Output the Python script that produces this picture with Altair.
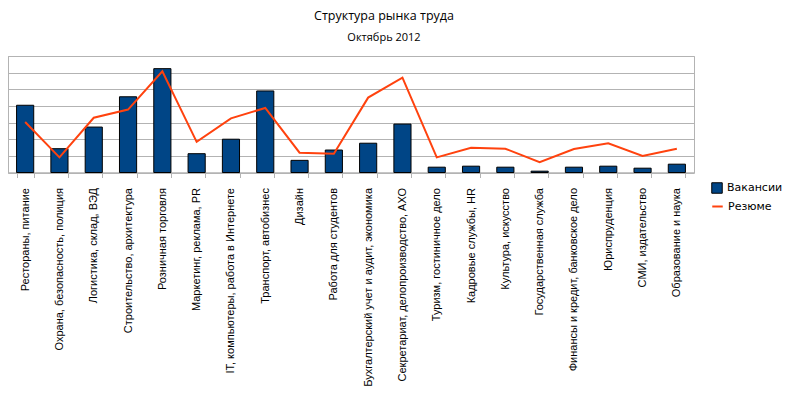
import altair as alt
import pandas as pd

categories = [
    "Рестораны, питание",
    "Охрана, безопасность, полиция",
    "Логистика, склад, ВЭД",
    "Строительство, архитектура",
    "Розничная торговля",
    "Маркетинг, реклама, PR",
    "IT, компьютеры, работа в Интернете",
    "Транспорт, автобизнес",
    "Дизайн",
    "Работа для студентов",
    "Бухгалтерский учет и аудит, экономика",
    "Секретариат, делопроизводство, АХО",
    "Туризм, гостиничное дело",
    "Кадровые службы, HR",
    "Культура, искусство",
    "Государственная служба",
    "Финансы и кредит, банковское дело",
    "Юриспруденция",
    "СМИ, издательство",
    "Образование и наука",
]
vacancies = [4.04, 1.43, 2.73, 4.55, 6.24, 1.13, 2.0, 4.9, 0.73, 1.35,
             1.76, 2.91, 0.32, 0.38, 0.32, 0.08, 0.32, 0.38, 0.26, 0.5]
resumes = [3.03, 0.91, 3.29, 3.78, 6.08, 1.84, 3.25, 3.88, 1.19, 1.13,
           4.5, 5.7, 0.91, 1.49, 1.43, 0.62, 1.41, 1.76, 0.99, 1.43]
y_ticks = [0, 1, 2, 3, 4, 5, 6, 7]

df = pd.DataFrame({
    "cat": categories,
    "vac": vacancies,
    "res": resumes,
    "s1": ["Вакансии"] * len(categories),
    "s2": ["Резюме"] * len(categories),
})

GRID = "#b3b3b3"
BLUE = "#004586"
ORANGE = "#ff420e"

x = alt.X("cat:N", sort=categories, title=None,
          scale=alt.Scale(paddingInner=0.5, paddingOuter=0.25),
          axis=alt.Axis(labelAngle=-90, labelAlign="right", labelBaseline="middle",
                        labelFont="Liberation Sans", labelFontSize=11, labelColor="#000000",
                        tickBand="extent", tickColor=GRID, tickSize=5,
                        domainColor=GRID, labelPadding=10, labelLimit=0))

yscale = alt.Scale(domain=[0, 7], nice=False)
yaxis = alt.Axis(labels=False, values=y_ticks, grid=True, gridColor=GRID,
                 tickColor=GRID, tickSize=4, domainColor=GRID)

bars = alt.Chart(df).mark_bar(stroke="#000000", strokeWidth=1).encode(
    x=x,
    y=alt.Y("vac:Q", scale=yscale, title=None, axis=yaxis),
    fill=alt.Fill("s1:N", scale=alt.Scale(range=[BLUE]),
                  legend=alt.Legend(title=None, orient="none", legendX=703, legendY=126,
                                    symbolType="square", symbolSize=110,
                                    symbolStrokeColor="#000000", symbolStrokeWidth=1,
                                    labelFont="DejaVu Sans", labelFontSize=11,
                                    labelColor="#000000")),
)

line = alt.Chart(df).mark_line(strokeWidth=2).encode(
    x=x,
    y=alt.Y("res:Q", scale=yscale, title=None, axis=yaxis),
    stroke=alt.Stroke("s2:N", scale=alt.Scale(range=[ORANGE]),
                      legend=alt.Legend(title=None, orient="none", legendX=703, legendY=144,
                                        symbolType="stroke", symbolStrokeWidth=2,
                                        symbolSize=110,
                                        labelFont="DejaVu Sans", labelFontSize=11,
                                        labelColor="#000000")),
)

chart = alt.layer(bars, line).resolve_scale(fill="independent", stroke="independent").properties(
    width=686,
    height=116.5,
    autosize=alt.AutoSizeParams(type="none"),
    padding={"left": 0, "top": 48, "right": 88, "bottom": 230},
    title=alt.TitleParams(
        text="Структура рынка труда",
        subtitle="Октябрь 2012",
        font="Open Sans", fontSize=12.5, fontWeight="normal", color="#000000",
        subtitleFont="Open Sans", subtitleFontSize=11, subtitleColor="#000000",
        subtitlePadding=9,
        anchor="middle", dx=33, offset=13,
    ),
).configure_view(stroke=GRID)

chart.save("out.html", embed_options={"renderer": "svg", "actions": False})
